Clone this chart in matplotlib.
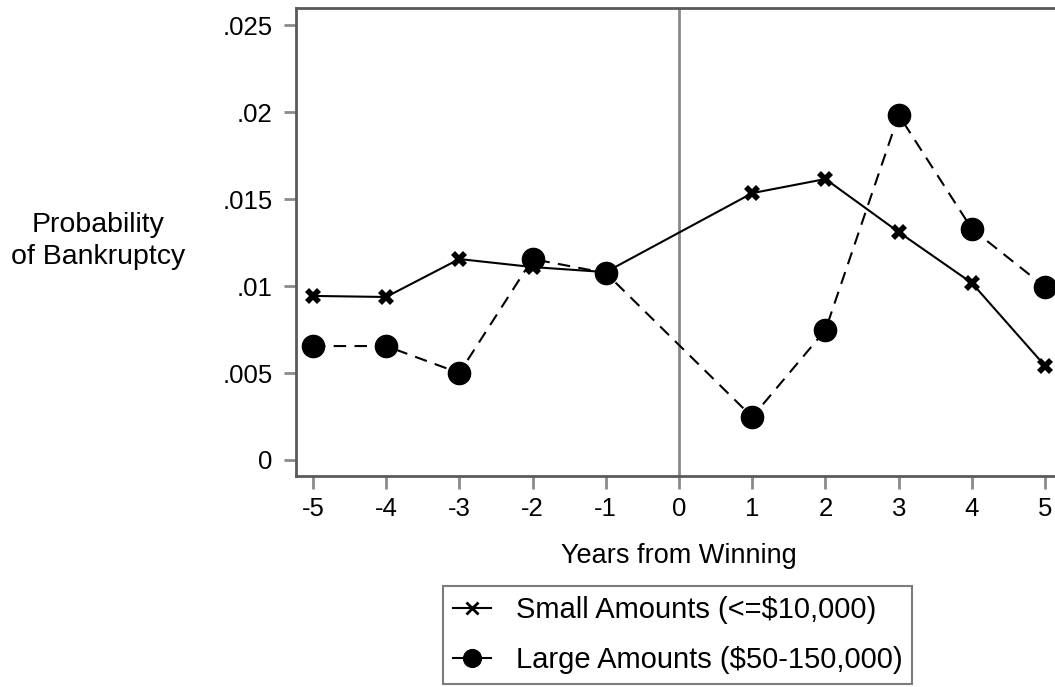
import matplotlib
matplotlib.use("Agg")
import matplotlib.pyplot as plt

plt.rcParams['font.family'] = ['Liberation Sans', 'DejaVu Sans']
plt.rcParams['axes.unicode_minus'] = False

# data
years = [-5, -4, -3, -2, -1, 1, 2, 3, 4, 5]
small = [0.00943, 0.00937, 0.01155, 0.01109, 0.01080, 0.01534, 0.01615, 0.01310, 0.01017, 0.00540]
large = [0.00655, 0.00655, 0.00500, 0.01155, 0.01075, 0.00247, 0.00747, 0.01983, 0.01328, 0.00994]

xticks = [-5, -4, -3, -2, -1, 0, 1, 2, 3, 4, 5]
yticks = [0, 0.005, 0.01, 0.015, 0.02, 0.025]
ytick_labels = ['0', '.005', '.01', '.015', '.02', '.025']

W, H = 1055, 687
fig = plt.figure(figsize=(W / 100, H / 100), dpi=100)
left, right, top, bottom = 296, 1062, 8, 476
ax = fig.add_axes([left / W, (H - bottom) / H, (right - left) / W, (bottom - top) / H])

grey = '#5a5a5a'
ax.axvline(0, color='#8a8a8a', lw=2, zorder=1)

ax.plot(years, small, color='black', lw=1.5, marker='X', markersize=11,
        markeredgewidth=0, label='Small Amounts (<=$10,000)', zorder=3)
ax.plot(years, large, color='black', lw=1.5, ls=(0, (6, 4)), marker='o', markersize=16,
        label='Large Amounts ($50-150,000)', zorder=2)

ax.set_xlim(-5.23, 5.23)
ax.set_ylim(-0.00092, 0.02598)
ax.set_xticks(xticks)
ax.set_yticks(yticks)
ax.set_yticklabels(ytick_labels)

for s in ax.spines.values():
    s.set_color(grey)
    s.set_linewidth(2)
ax.tick_params(direction='out', length=9, width=2, color='#8a8a8a', labelsize=18.5)
ax.tick_params(axis='y', pad=8)
ax.tick_params(axis='x', pad=6)

ax.set_xlabel('Years from Winning', fontsize=19.5, labelpad=16)
fig.text(98 / W, 1 - 241 / H, 'Probability\nof Bankruptcy', fontsize=20.5,
         ha='center', va='center', linespacing=1.25)

leg = ax.legend(loc='upper center', bbox_to_anchor=(677.5 / W, 1 - 586 / H),
                bbox_transform=fig.transFigure, fontsize=21, frameon=True,
                fancybox=False, edgecolor=grey, borderaxespad=0,
                handlelength=1.3, handletextpad=0.85, labelspacing=0.75,
                borderpad=0.35, markerscale=0.8)
leg.get_frame().set_linewidth(1.5)
# legend keys in the reference use plain solid lines, thin x for small amounts
for h in leg.legend_handles:
    h.set_linestyle('-')
leg.legend_handles[0].set_marker('x')
leg.legend_handles[0].set_markeredgewidth(2)
leg.legend_handles[0].set_markersize(9)

fig.savefig('out.png', dpi=100)
